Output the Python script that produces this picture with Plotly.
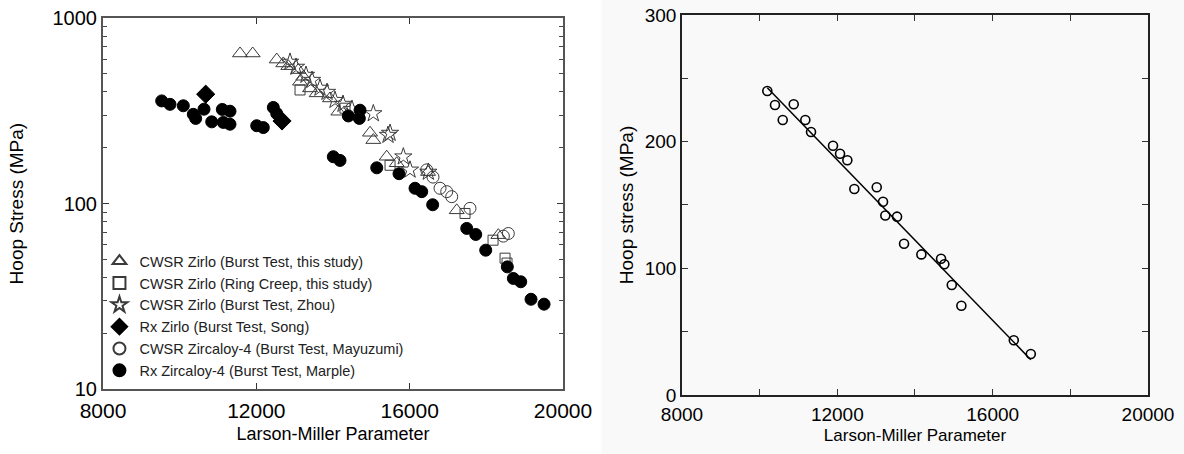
import numpy as np
import plotly.graph_objects as go

# ---- Left panel: stress-rupture data on a log stress axis ----
tri_lmp = [11574, 11905, 12532, 12704, 12834, 13095, 13226, 13140, 13401, 13575,
           13922, 14139, 14966, 15052, 15401, 15662, 16479, 17228, 18313]
tri_mpa = [645, 645, 598, 570, 551, 525, 483, 454, 418, 393,
           369, 313, 241, 220, 179, 165, 148, 92, 67.6]

sq_lmp = [13140, 14313, 15488, 17444, 18175, 18488, 18540]
sq_mpa = [410, 327, 161, 88.5, 63.5, 50.8, 47.8]

star_lmp = [12879, 13035, 13296, 13453, 13661, 13844, 14053, 14261, 14496,
            15052, 15435, 15488, 15835, 16009, 16487]
star_mpa = [580, 545, 493, 463, 420, 399, 361, 344, 323,
            306, 234, 240, 179, 152, 148]

dia_lmp = [10679, 12670]
dia_mpa = [389, 279]

ocirc_lmp = [16445, 16609, 16792, 16967, 17097, 17574, 18574, 18444]
ocirc_mpa = [152, 139, 121, 116, 109, 94.3, 69, 66.8]

fcirc_lmp = [9531, 9748, 10095, 10356, 10418, 10635, 10836, 11112, 11313, 11139,
             11313, 12010, 12182, 12443, 12532, 12636, 14400, 14705, 14687, 14008,
             14183, 15141, 15722, 16140, 16315, 16600, 17489, 17724, 17984, 18548,
             18705, 18898, 19166, 19506]
fcirc_mpa = [358, 343, 337, 303, 288, 323, 276, 322, 315, 274,
             268, 263, 257, 330, 306, 284, 297, 319, 288, 179,
             171, 156, 145, 121, 116, 98.6, 73.5, 68.2, 56.1, 45.6,
             39.5, 37.9, 30.5, 28.7]

# ---- Right panel: linear stress vs LMP with a fitted line ----
r_lmp = [10197, 10395, 10877, 10594, 11176, 11323, 11889, 12070, 12258, 12438, 13015,
         13177, 13236, 13538, 13718, 14164, 14671, 14756, 14947, 15194, 16544, 16982]
r_mpa = [240, 228.9, 229.5, 217.1, 217.1, 207.6, 196.8, 190.5, 185.3, 162.6, 164,
         152.6, 141.7, 140.8, 119.4, 111, 107.6, 103.2, 86.8, 70.4, 43.2, 32.4]

x_ticks = [8000, 12000, 16000, 20000]

FONT = "Liberation Sans, Arial, sans-serif"
OPEN_COL = "#3a3a3a"

fig = go.Figure()

left_series = [
    ("CWSR Zirlo (Burst Test, this study)", tri_lmp, tri_mpa, "triangle-up-open", 13, OPEN_COL),
    ("CWSR Zirlo (Ring Creep, this study)", sq_lmp, sq_mpa, "square-open", 10, OPEN_COL),
    ("CWSR Zirlo (Burst Test, Zhou)", star_lmp, star_mpa, "star-open", 13, OPEN_COL),
    ("Rx Zirlo (Burst Test, Song)", dia_lmp, dia_mpa, "diamond", 14, "black"),
    ("CWSR Zircaloy-4 (Burst Test, Mayuzumi)", ocirc_lmp, ocirc_mpa, "circle-open", 12, OPEN_COL),
    ("Rx Zircaloy-4 (Burst Test, Marple)", fcirc_lmp, fcirc_mpa, "circle", 12, "black"),
]
for name, xs, ys, sym, size, col in left_series:
    fig.add_trace(go.Scatter(
        x=xs, y=ys, mode="markers", name=name,
        marker=dict(symbol=sym, size=size, color=col,
                    line=dict(width=1, color=col)),
        xaxis="x", yaxis="y", showlegend=True,
    ))

fig.add_trace(go.Scatter(
    x=r_lmp, y=r_mpa, mode="markers", showlegend=False,
    marker=dict(symbol="circle-open", size=9, color="black", line=dict(width=1.6)),
    xaxis="x2", yaxis="y2",
))
slope, icpt = np.polyfit(r_lmp, r_mpa, 1)
fx = np.array([min(r_lmp), max(r_lmp)])
fig.add_trace(go.Scatter(
    x=fx, y=slope * fx + icpt, mode="lines", showlegend=False,
    line=dict(color="black", width=1.5), xaxis="x2", yaxis="y2",
))

axis_common = dict(showgrid=False, zeroline=False, showline=True, mirror="allticks",
                   ticks="inside", tickcolor="#333", ticklen=6, automargin=False)

fig.update_layout(
    width=1184, height=454,
    margin=dict(l=0, r=0, t=0, b=0, autoexpand=False),
    paper_bgcolor="white", plot_bgcolor="rgba(0,0,0,0)",
    font=dict(family=FONT, color="black"),
    shapes=[dict(type="rect", xref="paper", yref="paper", x0=0.508, x1=1, y0=0, y1=1,
                 fillcolor="#f9f9f9", line=dict(width=0), layer="below")],
    xaxis=dict(domain=[0.087, 0.4755], range=[8000, 20000], tickvals=x_ticks, tickformat="d",
               linecolor="#555", linewidth=2, anchor="y", ticklabelstandoff=2,
               tickfont=dict(size=21), title=dict(text="Larson-Miller Parameter", font=dict(size=18),
                                                 standoff=6),
               **axis_common),
    yaxis=dict(domain=[0.143, 0.960], type="log", range=[1, 3], dtick=1,
               linecolor="#555", linewidth=2, anchor="x",
               minor=dict(ticks="inside", ticklen=4, tickcolor="#444", showgrid=False),
               tickfont=dict(size=20), title=dict(text="Hoop Stress (MPa)", font=dict(size=19),
                                                 standoff=24),
               **axis_common),
    xaxis2=dict(domain=[0.576, 0.9696], range=[8000, 20000], tickvals=x_ticks, tickformat="d",
                linecolor="#222", linewidth=1.5, anchor="y2", ticklabelstandoff=1,
                minor=dict(ticks="inside", ticklen=6, dtick=2000, tickcolor="#333"),
                tickfont=dict(size=19), title=dict(text="Larson-Miller Parameter", font=dict(size=17),
                                                  standoff=6),
                **axis_common),
    yaxis2=dict(domain=[0.130, 0.967], range=[0, 300], tickvals=[0, 100, 200, 300],
                linecolor="#222", linewidth=1.5, anchor="x2",
                minor=dict(ticks="inside", ticklen=6, dtick=50, tickcolor="#333"),
                tickfont=dict(size=19), title=dict(text="Hoop stress (MPa)", font=dict(size=19),
                                                  standoff=6),
                **axis_common),
    legend=dict(x=0.084, xanchor="left", y=0.46, yanchor="top",
                bgcolor="rgba(0,0,0,0)", font=dict(size=14.5, color="#222"),
                itemsizing="constant", tracegroupgap=0),
)

fig.write_html("out.html")
